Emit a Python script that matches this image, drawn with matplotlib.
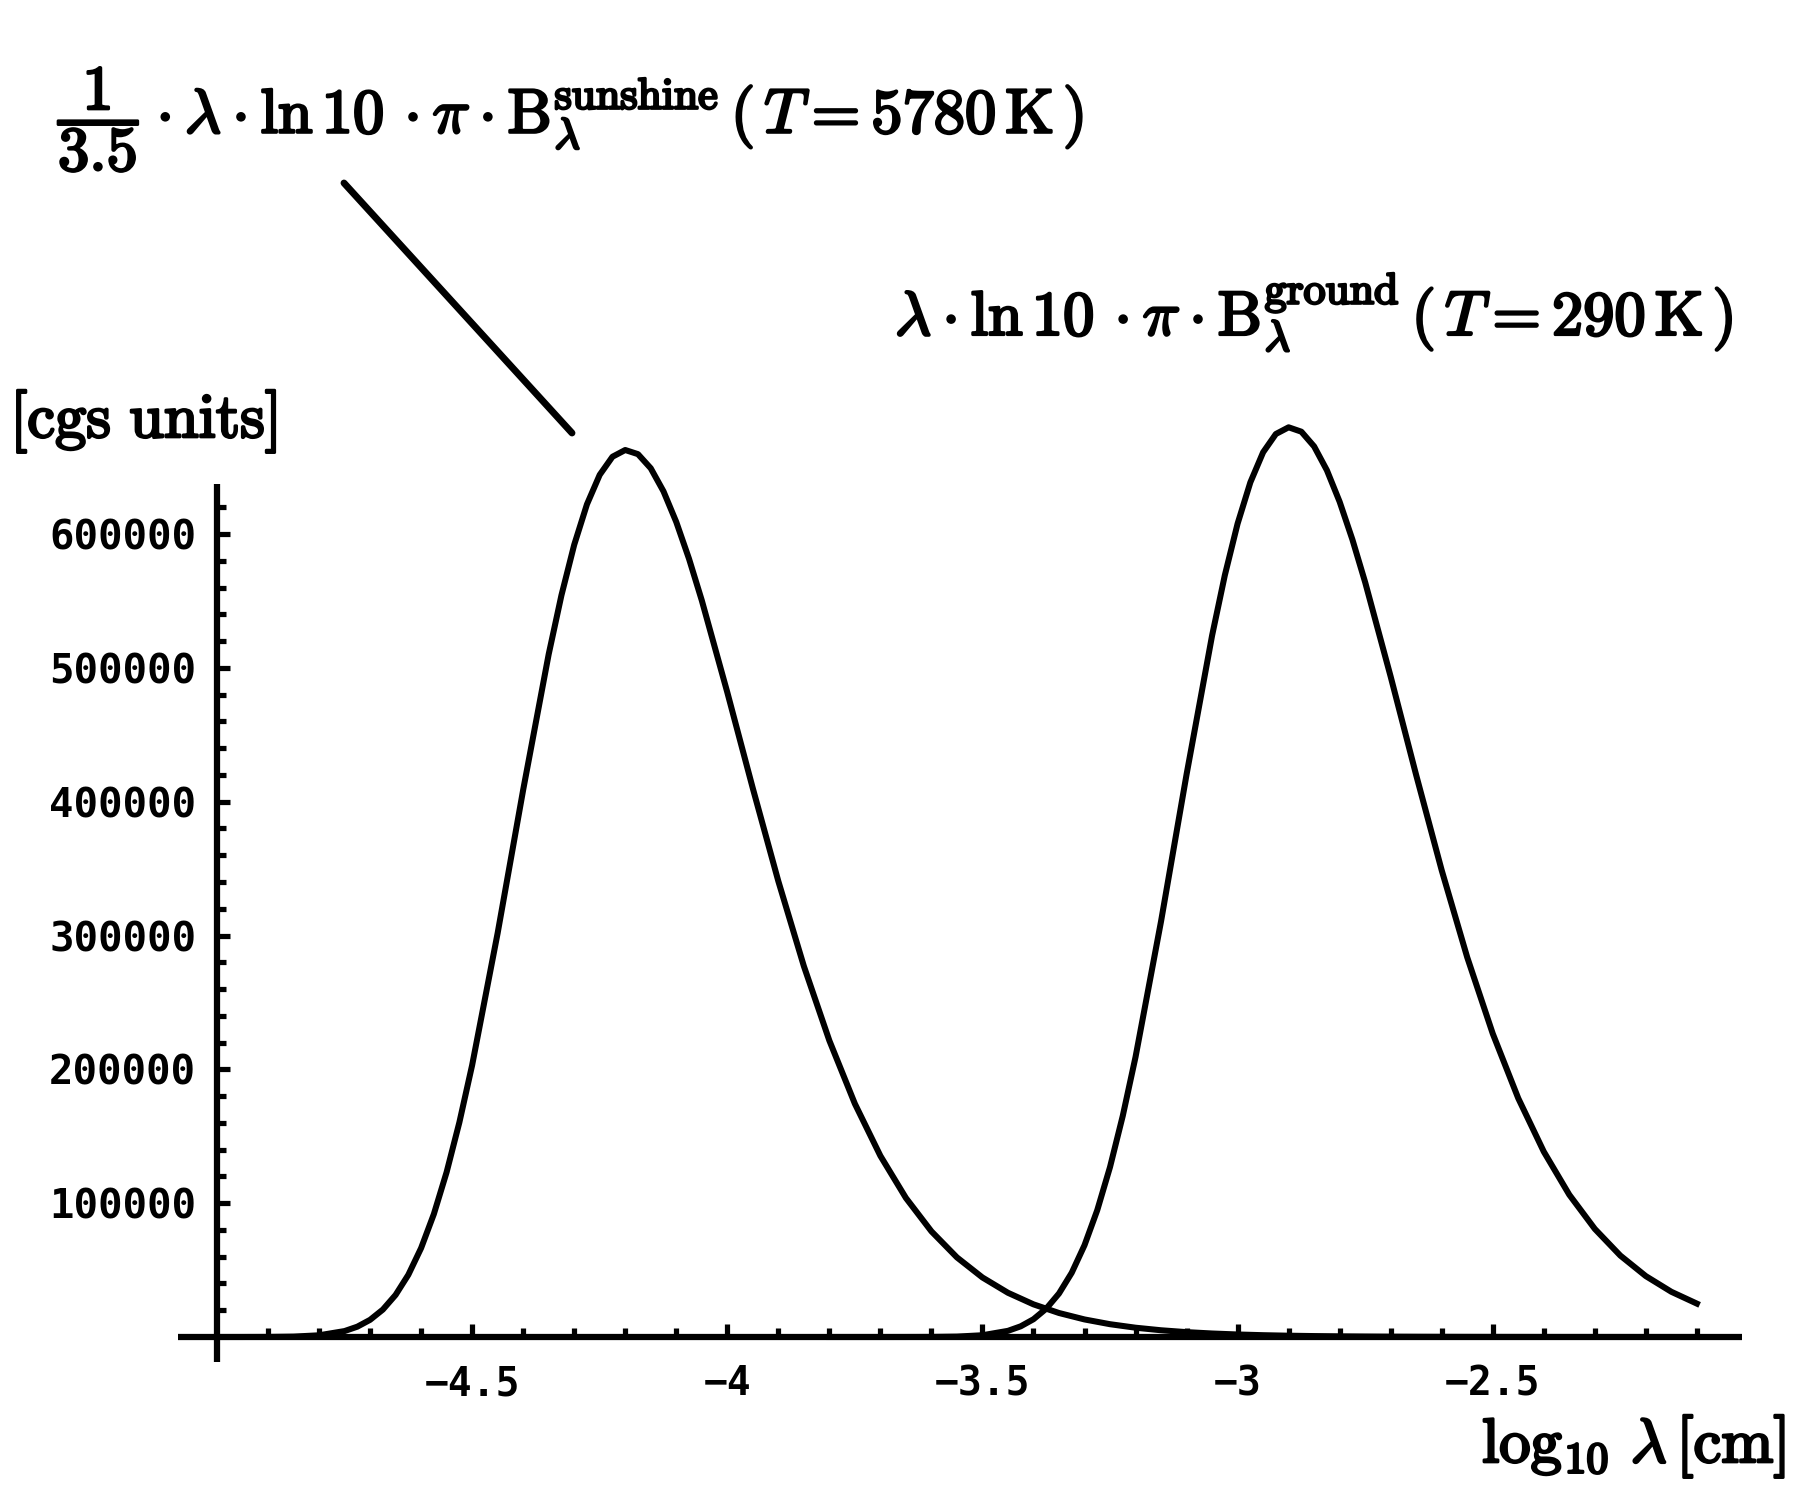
import matplotlib
matplotlib.use("Agg")
import matplotlib.pyplot as plt
import matplotlib.patheffects as pe

plt.rcParams['mathtext.fontset'] = 'cm'

# log10 of wavelength [cm]
log_lam_sun = [-5.00, -4.95, -4.90, -4.85, -4.80, -4.75, -4.725, -4.70, -4.675, -4.65,
               -4.625, -4.60, -4.575, -4.55, -4.525, -4.50, -4.45, -4.40, -4.35, -4.325,
               -4.30, -4.275, -4.25, -4.225, -4.20, -4.175, -4.15, -4.125, -4.10, -4.075,
               -4.05, -4.00, -3.95, -3.90, -3.85, -3.80, -3.75, -3.70, -3.65, -3.60,
               -3.55, -3.50, -3.45, -3.40, -3.35, -3.30, -3.25, -3.20, -3.15, -3.10,
               -3.05, -3.00, -2.95, -2.90, -2.85, -2.80, -2.75, -2.70, -2.65, -2.60,
               -2.55, -2.50, -2.45, -2.40, -2.35, -2.30, -2.25, -2.20, -2.15, -2.10]
sunshine = [1, 8, 55, 297, 1274, 4436, 7709, 12824, 20470, 31430,
            46492, 66438, 91866, 123180, 160380, 203120, 301820, 408830, 510140, 554220,
            591930, 622190, 644230, 657740, 662780, 659680, 649140, 631890, 609000, 581500,
            550450, 481740, 410000, 340620, 277170, 221500, 174310, 135360, 103900, 78956,
            59483, 44477, 33037, 24400, 17930, 13120, 9562, 6946, 5030, 3634,
            2619, 1884, 1352, 970, 694, 496, 354, 253, 180, 129,
            92, 65, 47, 33, 24, 17, 12, 9, 6, 4]

log_lam_ground = [-3.80, -3.75, -3.70, -3.65, -3.60, -3.55, -3.50, -3.45, -3.425, -3.40,
                  -3.375, -3.35, -3.325, -3.30, -3.275, -3.25, -3.225, -3.20, -3.15, -3.10,
                  -3.05, -3.025, -3.00, -2.975, -2.95, -2.925, -2.90, -2.875, -2.85, -2.825,
                  -2.80, -2.775, -2.75, -2.70, -2.65, -2.60, -2.55, -2.50, -2.45, -2.40,
                  -2.35, -2.30, -2.25, -2.20, -2.15, -2.10]
ground = [0, 0, 1, 8, 57, 309, 1320, 4598, 7985, 13268,
          21171, 32486, 48015, 68570, 94770, 126970, 165250, 209200, 310610, 420360,
          524110, 569210, 607740, 638600, 661070, 674740, 679740, 676460, 665450, 647640,
          624070, 595840, 563930, 493410, 419800, 348700, 283680, 226680, 178360, 138510,
          106290, 80768, 60845, 45491, 33783, 24950]

x_major = [-4.5, -4.0, -3.5, -3.0, -2.5]
x_labels = ['\u22124.5', '\u22124', '\u22123.5', '\u22123', '\u22122.5']
x_minor = [-4.9, -4.8, -4.7, -4.6, -4.4, -4.3, -4.2, -4.1, -3.9, -3.8, -3.7, -3.6,
           -3.4, -3.3, -3.2, -3.1, -2.9, -2.8, -2.7, -2.6, -2.4, -2.3, -2.2, -2.1]
y_major = [100000, 200000, 300000, 400000, 500000, 600000]
y_labels = ['100000', '200000', '300000', '400000', '500000', '600000']
y_minor = [v for v in range(20000, 640000, 20000) if v % 100000 != 0]

fig = plt.figure(figsize=(12, 10), dpi=150)
ax = fig.add_axes([0, 0, 1, 1])
ax.set_xlim(-5.4252, -1.8979)
ax.set_ylim(-121800, 999030)

ax.plot(log_lam_sun, sunshine, color='black', lw=2.9, solid_joinstyle='round')
ax.plot(log_lam_ground, ground, color='black', lw=2.9, solid_joinstyle='round')

# axes drawn through the origin like the original
for s in ['top', 'right']:
    ax.spines[s].set_visible(False)
ax.spines['left'].set_position(('data', -5.0))
ax.spines['bottom'].set_position(('data', 0.0))
ax.spines['left'].set_bounds(-18680, 637380)
ax.spines['bottom'].set_bounds(-5.0764, -2.0116)
for s in ['left', 'bottom']:
    ax.spines[s].set_linewidth(3.0)
    ax.spines[s].set_capstyle('butt')

ax.set_xticks(x_major, labels=x_labels)
ax.set_xticks(x_minor, minor=True)
ax.set_yticks(y_major, labels=y_labels)
ax.set_yticks(y_minor, minor=True)
ax.tick_params(which='both', direction='in', width=2.5, color='black')
ax.tick_params(which='major', length=6.2)
ax.tick_params(which='minor', length=4.4)
ax.tick_params(axis='x', which='major', pad=13)
ax.tick_params(axis='y', which='major', pad=10)
for lab in ax.get_xticklabels():
    lab.set_fontfamily('DejaVu Sans Mono')
    lab.set_fontweight('bold')
    lab.set_fontsize(19)
for lab in ax.get_yticklabels():
    lab.set_fontfamily('DejaVu Sans Mono')
    lab.set_fontweight('bold')
    lab.set_fontsize(19.5)

W, H = 1800.0, 1500.0
fs = 30
heavy = [pe.withStroke(linewidth=1.3, foreground='black')]
fig.text(58 / W, 1 - 133 / H,
         r'$\dfrac{1}{3.5}\cdot\lambda\cdot\ln 10\,\cdot\pi\cdot\mathrm{B}_{\lambda}^{\mathrm{sunshine}}\,(\,T=5780\,\mathrm{K}\,)$',
         fontsize=fs, ha='left', va='baseline', path_effects=heavy)
fig.text(895 / W, 1 - 335 / H,
         r'$\lambda\cdot\ln 10\,\cdot\pi\cdot\mathrm{B}_{\lambda}^{\mathrm{ground}}\,(\,T=290\,\mathrm{K}\,)$',
         fontsize=fs, ha='left', va='baseline', path_effects=heavy)
fig.text(10 / W, 1 - 437 / H, r'$[\mathrm{cgs\ units}]$',
         fontsize=fs, ha='left', va='baseline', path_effects=heavy)
fig.text(1482 / W, 1 - 1462 / H, r'$\log_{10}\,\lambda\,[\mathrm{cm}]$',
         fontsize=fs, ha='left', va='baseline', path_effects=heavy)

# leader line from the sunshine label to its curve
ax.annotate('', xy=(-4.3043, 675480), xytext=(-4.7511, 862290),
            arrowprops=dict(arrowstyle='-', lw=3.3, color='black',
                            shrinkA=0, shrinkB=0),
            annotation_clip=False)

fig.savefig('out.png', dpi=150, facecolor='white')
